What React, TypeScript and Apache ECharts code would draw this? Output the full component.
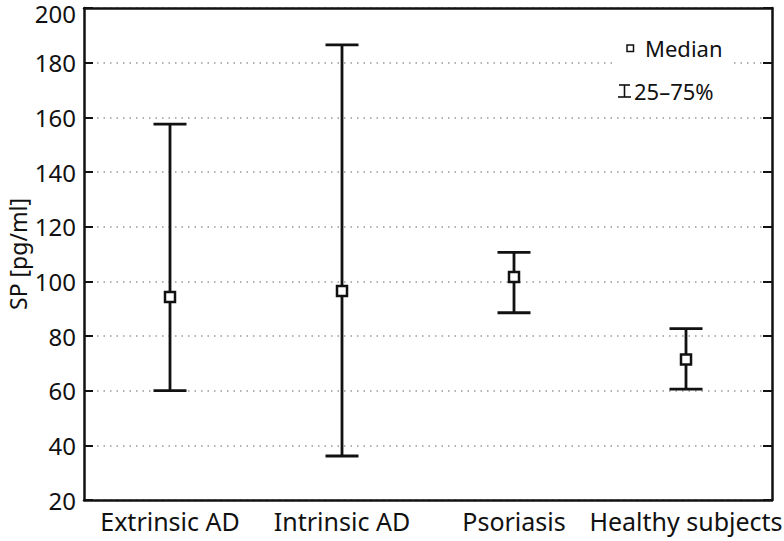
import React, { useEffect, useRef } from "react";
import * as echarts from "echarts";

const categories = ["Extrinsic AD", "Intrinsic AD", "Psoriasis", "Healthy subjects"];
const medians = [94.3, 96.5, 101.6, 71.4];
const q25 = [60, 36.1, 88.5, 60.6];
const q75 = [157.5, 186.5, 110.6, 82.7];
const yTicks = [20, 40, 60, 80, 100, 120, 140, 160, 180, 200];

const FONT = "Noto Sans";

export default function App() {
  const ref = useRef<HTMLDivElement>(null);
  useEffect(() => {
    if (!ref.current) return;
    const chart = echarts.init(ref.current, null, { renderer: "svg" });
    const barData = categories.map((_, i) => [i, q25[i], q75[i]]);
    const yMax = yTicks[yTicks.length - 1];
    chart.setOption({
      animation: false,
      grid: { left: 84, top: 8, right: 12, bottom: 41, outerBoundsMode: "none", containLabel: false },
      xAxis: [
        {
          type: "category",
          data: categories,
          boundaryGap: true,
          axisLine: { lineStyle: { color: "#111", width: 2.5 } },
          axisTick: { inside: true, alignWithLabel: true, length: 9, lineStyle: { color: "#111", width: 2 } },
          axisLabel: { interval: 0, fontFamily: FONT, fontSize: 25, color: "#111", margin: 8 },
          splitLine: { show: false },
        },
        {
          type: "category",
          data: categories,
          position: "top",
          boundaryGap: true,
          axisLine: { lineStyle: { color: "#111", width: 2.5 } },
          axisTick: { inside: true, alignWithLabel: true, length: 9, lineStyle: { color: "#111", width: 2 } },
          axisLabel: { show: false },
          splitLine: { show: false },
        },
      ],
      yAxis: [
        {
          type: "value",
          min: yTicks[0],
          max: yMax,
          interval: 20,
          name: "SP [pg/ml]",
          nameLocation: "middle",
          nameGap: 54,
          nameMoveOverlap: false,
          nameTextStyle: { fontFamily: FONT, fontSize: 23, color: "#111", lineHeight: 24 },
          axisLine: { show: true, lineStyle: { color: "#111", width: 2.5 } },
          axisTick: { show: true, inside: true, length: 9, lineStyle: { color: "#111", width: 2 } },
          axisLabel: {
            fontFamily: FONT,
            fontSize: 24,
            lineHeight: 18,
            color: "#111",
            margin: 8,
            formatter: (v: number) => (v === yMax ? "{t|" + v + "}" : String(v)),
            rich: { t: { fontFamily: FONT, fontSize: 24, lineHeight: 6, color: "#111", padding: [10, 0, 0, 0] } },
          },
          splitLine: { show: true, lineStyle: { color: "#999", type: [1.5, 5], width: 1.5 } },
        },
        {
          type: "value",
          min: yTicks[0],
          max: yMax,
          interval: 20,
          position: "right",
          axisLine: { show: true, lineStyle: { color: "#111", width: 2.5 } },
          axisTick: { show: true, inside: true, length: 9, lineStyle: { color: "#111", width: 2 } },
          axisLabel: { show: false },
          splitLine: { show: false },
        },
      ],
      series: [
        {
          type: "custom",
          xAxisIndex: 0,
          yAxisIndex: 0,
          data: barData,
          encode: { x: 0, y: [1, 2] },
          renderItem: (params: any, api: any) => {
            const idx = api.value(0);
            const lo = api.coord([idx, api.value(1)]);
            const hi = api.coord([idx, api.value(2)]);
            const hw = 16.5;
            const style = { stroke: "#111", lineWidth: 2.8 };
            return {
              type: "group",
              children: [
                { type: "line", shape: { x1: lo[0], y1: lo[1], x2: hi[0], y2: hi[1] }, style },
                { type: "line", shape: { x1: lo[0] - hw, y1: lo[1], x2: lo[0] + hw, y2: lo[1] }, style },
                { type: "line", shape: { x1: hi[0] - hw, y1: hi[1], x2: hi[0] + hw, y2: hi[1] }, style },
              ],
            };
          },
          z: 3,
        },
        {
          type: "scatter",
          xAxisIndex: 0,
          yAxisIndex: 0,
          data: medians.map((v, i) => [i, v]),
          symbol: "rect",
          symbolSize: 10,
          itemStyle: { color: "#fff", borderColor: "#111", borderWidth: 2.5, opacity: 1 },
          z: 5,
        },
      ],
      graphic: [
        { type: "rect", z: 50, shape: { x: 613, y: 30, width: 117, height: 75 }, style: { fill: "#fff" } },
        { type: "rect", z: 51, shape: { x: 627, y: 45, width: 6.5, height: 6.5 }, style: { fill: "#fff", stroke: "#111", lineWidth: 1.5 } },
        { type: "text", z: 51, x: 645, y: 48, style: { text: "Median", fontFamily: FONT, fontSize: 22, fill: "#111", verticalAlign: "middle" } },
        { type: "line", z: 51, shape: { x1: 624.5, y1: 85, x2: 624.5, y2: 97 }, style: { stroke: "#111", lineWidth: 1.6 } },
        { type: "line", z: 51, shape: { x1: 619, y1: 85, x2: 630, y2: 85 }, style: { stroke: "#111", lineWidth: 1.6 } },
        { type: "line", z: 51, shape: { x1: 618, y1: 97, x2: 631, y2: 97 }, style: { stroke: "#111", lineWidth: 1.6 } },
        { type: "text", z: 51, x: 634, y: 91, style: { text: "25–75%", fontFamily: FONT, fontSize: 22, fill: "#111", verticalAlign: "middle" } },
      ],
    });
    return () => chart.dispose();
  }, []);
  return <div ref={ref} style={{ width: 784, height: 541, position: "absolute", left: 0, top: 0 }} />;
}
